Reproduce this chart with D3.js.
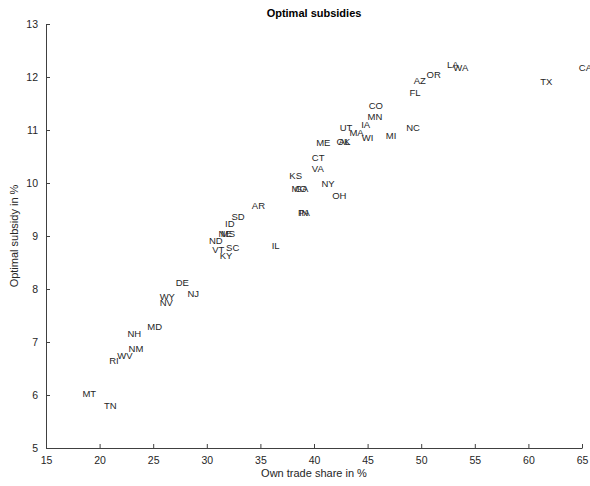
<!DOCTYPE html>
<html>
<head>
<meta charset="utf-8">
<script src="https://cdn.jsdelivr.net/npm/d3@7"></script>
<style>
  html, body { margin: 0; padding: 0; background: #fff; }
  svg { display: block; font-family: "Liberation Sans", Arial, sans-serif; }
</style>
</head>
<body>
<svg id="chart" width="590" height="486"></svg>
<script>
// State labels with own trade share (%) and optimal subsidy (%)
const states = ["CA","TX","LA","WA","OR","AZ","FL","NC","CO","MN","IA","UT","MA","WI","MI","OK","AL","ME","CT","VA","KS","MO","GA","NY","OH","AR","PA","IN","SD","ID","NE","MS","ND","SC","VT","KY","IL","DE","NJ","WY","NV","MD","NH","NM","WV","RI","MT","TN"];
const tradeShare = [64.7,61.1,52.4,53.0,50.5,49.3,48.9,48.6,45.1,45.0,44.4,42.4,43.3,44.45,46.7,42.1,42.3,40.2,39.8,39.8,37.7,37.9,38.2,40.7,41.7,34.2,38.5,38.6,32.3,31.7,31.1,31.3,30.2,31.8,30.5,31.2,36.05,27.1,28.2,25.6,25.6,24.45,22.6,22.7,21.65,20.9,18.4,20.4];
const subsidy = [12.17,11.92,12.23,12.17,12.04,11.94,11.71,11.05,11.46,11.25,11.11,11.04,10.96,10.86,10.89,10.79,10.79,10.77,10.48,10.28,10.15,9.90,9.90,9.99,9.77,9.57,9.45,9.45,9.36,9.24,9.05,9.05,8.91,8.79,8.75,8.63,8.82,8.13,7.91,7.85,7.74,7.29,7.16,6.88,6.75,6.66,6.02,5.81];
const xTicks = [15,20,25,30,35,40,45,50,55,60,65];
const yTicks = [5,6,7,8,9,10,11,12,13];

const svg = d3.select("#chart");
const plot = { left: 46, right: 582, top: 24, bottom: 448 };
const axisColor = "#404040", textColor = "#262626";

const x = d3.scaleLinear().domain([15, 65]).range([plot.left, plot.right]);
const y = d3.scaleLinear().domain([5, 13]).range([plot.bottom, plot.top]);

// Bottom axis, ticks pointing inward
const gx = svg.append("g").attr("transform", `translate(0,${plot.bottom})`)
  .call(d3.axisBottom(x).tickValues(xTicks).tickSizeInner(-4).tickSizeOuter(0).tickPadding(9));
// Left axis, ticks pointing inward
const gy = svg.append("g").attr("transform", `translate(${plot.left},0)`)
  .call(d3.axisLeft(y).tickValues(yTicks).tickSizeInner(-4).tickSizeOuter(0).tickPadding(8));

[gx, gy].forEach(g => {
  g.select(".domain").attr("stroke", axisColor).attr("stroke-width", 1);
  g.selectAll(".tick line").attr("stroke", axisColor);
  g.selectAll(".tick text").attr("fill", textColor).attr("font-size", 10.5)
    .attr("font-family", "Liberation Sans, Arial, sans-serif");
});

// State name markers
svg.append("g").selectAll("text")
  .data(states)
  .join("text")
  .attr("x", (d, i) => x(tradeShare[i]))
  .attr("y", (d, i) => y(subsidy[i]))
  .attr("dominant-baseline", "central")
  .attr("font-size", 9.5)
  .attr("fill", textColor)
  .text(d => d);

// Title and axis labels
svg.append("text")
  .attr("x", (plot.left + plot.right) / 2).attr("y", 17)
  .attr("text-anchor", "middle").attr("font-weight", "bold")
  .attr("font-size", 11).attr("fill", "#000")
  .text("Optimal subsidies");

svg.append("text")
  .attr("x", (plot.left + plot.right) / 2).attr("y", 477)
  .attr("text-anchor", "middle").attr("font-size", 11).attr("fill", textColor)
  .text("Own trade share in %");

svg.append("text")
  .attr("transform", `translate(18,${(plot.top + plot.bottom) / 2}) rotate(-90)`)
  .attr("text-anchor", "middle").attr("font-size", 11).attr("fill", textColor)
  .text("Optimal subsidy in %");
</script>
</body>
</html>
